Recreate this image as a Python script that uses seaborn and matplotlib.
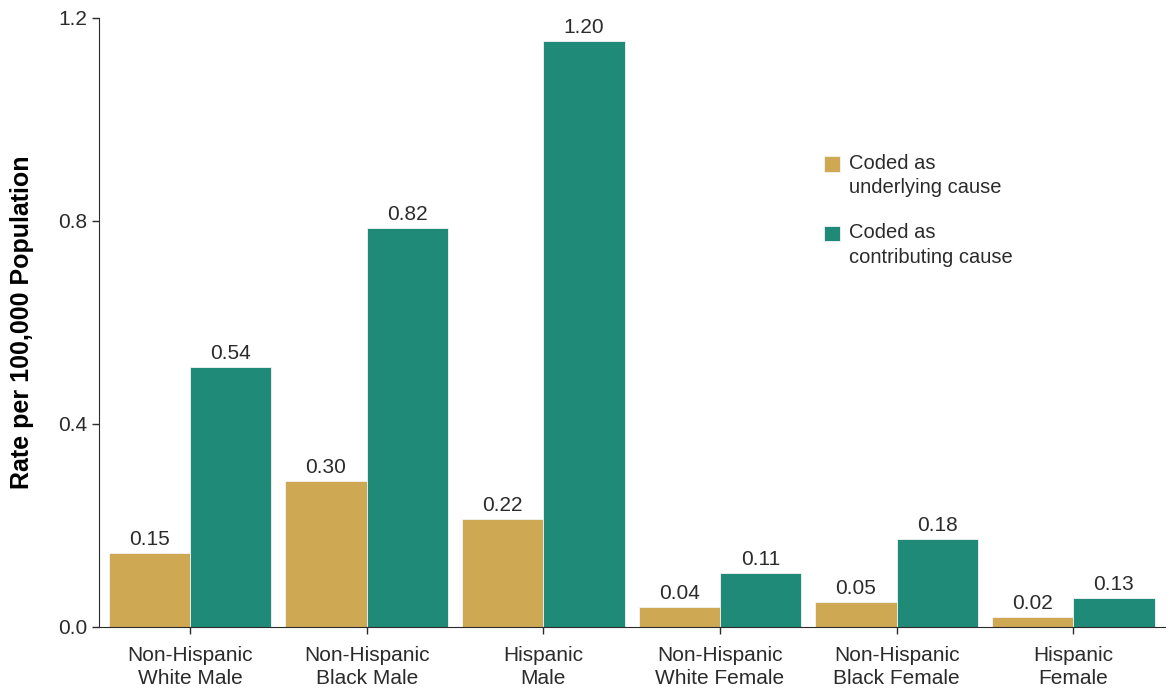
import pandas as pd
import seaborn as sns
import matplotlib.pyplot as plt

# Categories and series (bar heights, labels as printed)
groups = ["Non-Hispanic\nWhite Male", "Non-Hispanic\nBlack Male", "Hispanic\nMale",
          "Non-Hispanic\nWhite Female", "Non-Hispanic\nBlack Female", "Hispanic\nFemale"]
underlying = [0.145, 0.288, 0.213, 0.039, 0.049, 0.020]
contributing = [0.512, 0.786, 1.155, 0.106, 0.173, 0.057]
underlying_labels = ["0.15", "0.30", "0.22", "0.04", "0.05", "0.02"]
contributing_labels = ["0.54", "0.82", "1.20", "0.11", "0.18", "0.13"]
series_names = ["Coded as\nunderlying cause", "Coded as\ncontributing cause"]
yticks = [0.0, 0.4, 0.8, 1.2]

df = pd.DataFrame({
    "group": groups * 2,
    "rate": underlying + contributing,
    "series": [series_names[0]] * len(groups) + [series_names[1]] * len(groups),
})

sns.set_style("ticks")
plt.rcParams["font.family"] = ["Liberation Sans", "DejaVu Sans"]
text_color = "#2b2b2b"
fs = 15

fig = plt.figure(figsize=(11.69, 6.89), dpi=100)
ax = fig.add_axes([0.0847, 0.09, 0.912, 0.884])

sns.barplot(
    data=df, x="group", y="rate", hue="series",
    palette=["#CFA853", "#1F8A78"], saturation=1, width=0.92,
    edgecolor="#f4f4f4", linewidth=0.6, ax=ax,
)

for cont, labs in zip(ax.containers, [underlying_labels, contributing_labels]):
    ax.bar_label(cont, labels=labs, padding=3, fontsize=fs, color=text_color)

ax.set_ylim(0, 1.2)
ax.set_xlim(-0.515, 5.52)
ax.set_yticks(yticks)
ax.set_yticklabels([f"{t:.1f}" for t in yticks])
ax.set_xlabel("")
ax.set_ylabel("Rate per 100,000 Population", fontsize=18, fontweight="bold",
              color="black", labelpad=17)
ax.tick_params(axis="both", labelsize=fs, colors=text_color, length=5, width=1)
ax.tick_params(axis="x", pad=9)
for lab in ax.get_xticklabels():
    lab.set_linespacing(1.25)

sns.despine(ax=ax)
ax.spines["left"].set_color(text_color)
ax.spines["bottom"].set_color(text_color)

leg = ax.legend(
    loc="upper left", bbox_to_anchor=(0.689, 0.803), bbox_transform=fig.transFigure,
    frameon=False, fontsize=14.5, handlelength=0.8, handleheight=0.8,
    handletextpad=0.45, labelspacing=1.3,
)
for t in leg.get_texts():
    t.set_color(text_color)
    t.set_linespacing(1.35)
# put each swatch beside the first line of its label
for h in leg.legend_handles:
    h.set_y(h.get_y() + 8.7)

fig.savefig("out.png", dpi=100)
